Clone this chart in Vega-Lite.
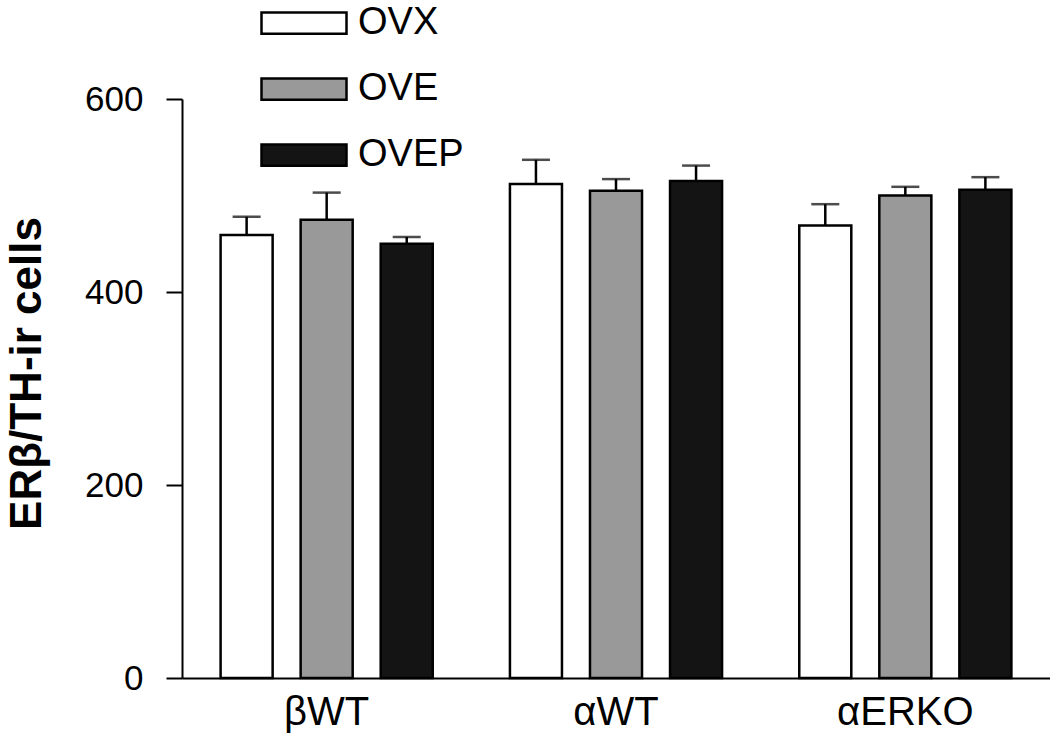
{
  "$schema": "https://vega.github.io/schema/vega-lite/v6.json",
  "width": 868,
  "height": 579,
  "autosize": {"type": "none"},
  "padding": {"left": 182, "top": 99, "right": 0, "bottom": 61},
  "background": "white",
  "config": {
    "view": {"stroke": null},
    "font": "Liberation Sans"
  },
  "data": {
    "values": [
      {"group": "βWT", "treatment": "OVX", "mean": 459, "upper": 478},
      {"group": "βWT", "treatment": "OVE", "mean": 475, "upper": 503},
      {"group": "βWT", "treatment": "OVEP", "mean": 450, "upper": 457},
      {"group": "αWT", "treatment": "OVX", "mean": 512, "upper": 537},
      {"group": "αWT", "treatment": "OVE", "mean": 505, "upper": 517},
      {"group": "αWT", "treatment": "OVEP", "mean": 515, "upper": 531},
      {"group": "αERKO", "treatment": "OVX", "mean": 469, "upper": 491},
      {"group": "αERKO", "treatment": "OVE", "mean": 500, "upper": 509},
      {"group": "αERKO", "treatment": "OVEP", "mean": 506, "upper": 519}
    ]
  },
  "encoding": {
    "x": {
      "field": "group", "type": "nominal", "sort": ["βWT", "αWT", "αERKO"],
      "scale": {"paddingInner": 0.17, "paddingOuter": 0.085},
      "axis": {"title": null, "labelAngle": 0, "ticks": false, "domainColor": "black", "domainWidth": 2, "labelFontSize": 40, "labelColor": "black", "labelPadding": 14, "labelFont": "Liberation Sans"}
    },
    "xOffset": {
      "field": "treatment", "type": "nominal", "sort": ["OVX", "OVE", "OVEP"],
      "scale": {"paddingInner": 0.35, "paddingOuter": 0.175}
    }
  },
  "layer": [
    {
      "mark": {"type": "bar", "stroke": "black", "strokeWidth": 2.5},
      "encoding": {
        "y": {
          "field": "mean", "type": "quantitative",
          "scale": {"domain": [0, 600], "nice": false},
          "axis": {"values": [0, 200, 400, 600], "grid": false, "domainColor": "black", "domainWidth": 2, "tickColor": "black", "tickWidth": 2, "tickSize": 16, "labelFontSize": 35, "labelColor": "black", "labelPadding": 23, "title": "ERβ/TH-ir cells", "titleFontSize": 44, "titleFontWeight": "bold", "titleColor": "black", "titleX": -155, "titleY": 274, "titleAlign": "center", "titleBaseline": "middle", "titleAngle": 270}
        },
        "fill": {
          "field": "treatment", "type": "nominal", "sort": ["OVX", "OVE", "OVEP"],
          "scale": {"domain": ["OVX", "OVE", "OVEP"], "range": ["#ffffff", "#999999", "#141414"]},
          "legend": {
            "title": null, "orient": "none", "legendX": 78, "legendY": -120,
            "symbolType": "M-1,-0.25H1V0.25H-1Z", "symbolSize": 7225,
            "symbolStrokeColor": "black", "symbolStrokeWidth": 2.5,
            "labelFontSize": 38, "labelColor": "black", "labelOffset": 10,
            "rowPadding": 3
          }
        }
      }
    },
    {
      "mark": {"type": "rule", "stroke": "black", "strokeWidth": 2.5},
      "encoding": {
        "y": {"field": "mean", "type": "quantitative"},
        "y2": {"field": "upper"}
      }
    },
    {
      "mark": {"type": "tick", "color": "black", "thickness": 2.5, "size": 28, "orient": "horizontal"},
      "encoding": {
        "y": {"field": "upper", "type": "quantitative"}
      }
    }
  ]
}
